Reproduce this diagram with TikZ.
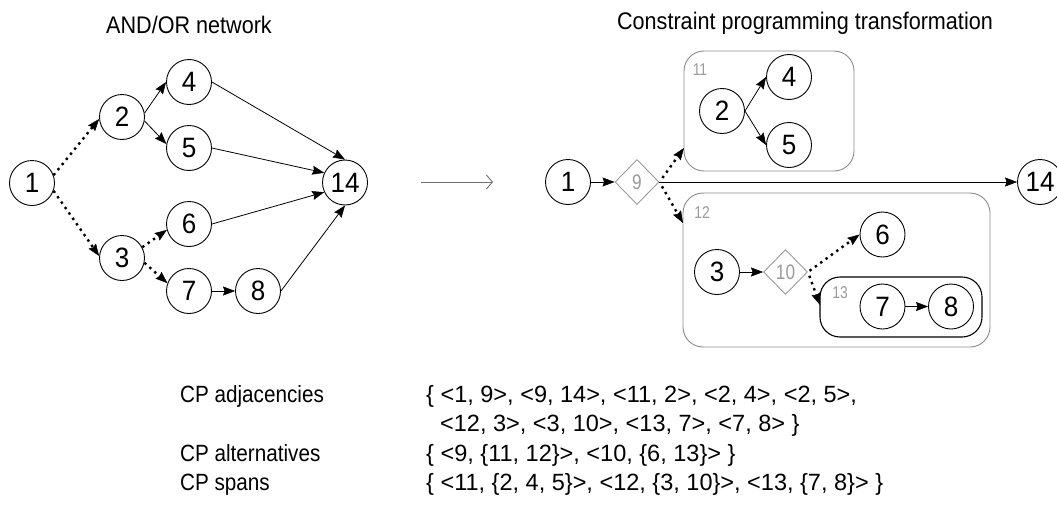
\documentclass[tikz,border=0pt]{standalone}
\usepackage{fontspec}
\setmainfont{Liberation Sans}
\newfontfamily\condfont[FakeStretch=0.9]{Liberation Sans}
\newfontfamily\nodefont[FakeStretch=0.93]{Liberation Sans}
\newfontfamily\labfont[FakeStretch=0.88]{Liberation Sans}
\newfontfamily\smallfont[FakeStretch=0.82]{Liberation Sans}
\usetikzlibrary{arrows.meta,shapes.geometric}
\definecolor{boxgray}{HTML}{8A8A8A}
\definecolor{labgray}{HTML}{9A9A9A}
\definecolor{arrgray}{HTML}{707070}
\begin{document}
\begin{tikzpicture}[x=1pt,y=-1pt,
  nd/.style={circle,draw,line width=0.9pt,minimum size=45pt,inner sep=0pt,font=\nodefont\fontsize{28}{28}\selectfont},
  dia/.style={diamond,draw=labgray,line width=0.9pt,minimum width=44pt,minimum height=45pt,inner sep=0pt,text=labgray,font=\smallfont\fontsize{21}{21}\selectfont},
  grp/.style={draw=boxgray,line width=0.9pt,rounded corners=20pt},
  grpk/.style={draw=black,line width=1.1pt,rounded corners=20pt},
  glab/.style={text=labgray,font=\smallfont\fontsize{17}{17}\selectfont,inner sep=0pt},
  ttl/.style={font=\condfont\fontsize{24}{24}\selectfont,inner sep=0pt},
  txt/.style={font=\fontsize{23.5}{24}\selectfont,inner sep=0pt,anchor=base west},
  lab/.style={font=\labfont\fontsize{23.5}{24}\selectfont,inner sep=0pt,anchor=base west},
  tip/.style={-{Stealth[length=12pt,width=9pt,inset=1.5pt,line width=0.5pt]}},
  sol/.style={tip,line width=0.8pt},
  dotl/.style={tip,line width=2.4pt,dash pattern=on 2.4pt off 4.2pt}
]
\useasboundingbox (0,0) rectangle (1057,506);

% titles
\node[ttl] (t1) at (189,25) {AND/OR network};
\node[ttl] (t2) at (805,23) {Constraint programming transformation};

% ---------- left graph ----------
\node[nd] (a1) at (32,183) {1};
\node[nd] (a2) at (122,117) {2};
\node[nd] (a4) at (189,82) {4};
\node[nd] (a5) at (189,148) {5};
\node[nd] (a14) at (345,182.5) {14};
\node[nd] (a6) at (189,224) {6};
\node[nd] (a3) at (122,258) {3};
\node[nd] (a7) at (189,291) {7};
\node[nd] (a8) at (258,291) {8};

\draw[dotl] (a1.20) -- (a2.185);
\draw[dotl] (a1.-20) -- (a3.175);
\draw[sol] (a2.10) -- (a4.180);
\draw[sol] (a2.-10) -- (a5.170);
\draw[dotl] (a3.28) -- (a6.195);
\draw[dotl] (a3.-12) -- (a7.160);
\draw[sol] (a7.east) -- (a8.west);
\draw[sol] (a4.east) -- (a14.north);
\draw[sol] (a5.east) -- (a14.155);
\draw[sol] (a6.east) -- (a14.205);
\draw[sol] (a8.east) -- (a14.south);

% middle arrow
\coordinate (m1) at (421,182);
\coordinate (m2) at (493,182);
\draw[arrgray,line width=0.9pt,-{Straight Barb[length=6pt,width=14pt,line width=0.9pt]}] (m1) -- (m2);

% ---------- right graph ----------
\draw[grp] (684,51) rectangle (854,171);
\draw[grp] (683,193) rectangle (990,347);
\draw[grpk] (820,277) rectangle (982,337);
\node[glab] (l11) at (700,70) {11};
\node[glab] (l12) at (702,213) {12};
\node[glab] (l13) at (840,293) {13};

\node[nd] (b1) at (568,182) {1};
\node[dia] (d9) at (637,182) {9};
\node[nd] (b14) at (1040,182) {14};
\node[nd] (b2) at (722,111) {2};
\node[nd] (b4) at (789,77) {4};
\node[nd] (b5) at (789,145) {5};
\node[nd] (b3) at (717,272) {3};
\node[dia] (d10) at (785.5,272) {10};
\node[nd] (b6) at (882.5,234.5) {6};
\node[nd] (b7) at (882.5,306.5) {7};
\node[nd] (b8) at (951,306.5) {8};

\coordinate (t11) at (684,148);
\coordinate (t12) at (683,223);
\coordinate (t13) at (820,305);

\draw[sol] (b1.east) -- (d9.west);
\draw[sol] (d9.east) -- (b14.west);
\draw[dotl,shorten <=5pt] (d9.east) -- (t11);
\draw[dotl,shorten <=5pt] (d9.east) -- (t12);
\draw[sol] (b2.east) -- (b4.west);
\draw[sol] (b2.east) -- (b5.west);
\draw[sol] (b3.east) -- (d10.west);
\draw[dotl,shorten <=2pt] (d10.east) -- (b6.west);
\draw[dotl,shorten <=4pt] (d10.east) -- (t13);
\draw[sol] (b7.east) -- (b8.west);

% ---------- bottom text ----------
\node[lab] (c1) at (180,402) {CP adjacencies};
\node[txt] (c1v) at (426,402) {\{ <1, 9>, <9, 14>, <11, 2>, <2, 4>, <2, 5>,};
\node[txt] (c1w) at (440,431) {<12, 3>, <3, 10>, <13, 7>, <7, 8> \}};
\node[lab] (c2) at (180,461) {CP alternatives};
\node[txt] (c2v) at (426,461) {\{ <9, \{11, 12\}>, <10, \{6, 13\}> \}};
\node[lab] (c3) at (180,490) {CP spans};
\node[txt] (c3v) at (426,490) {\{ <11, \{2, 4, 5\}>, <12, \{3, 10\}>, <13, \{7, 8\}> \}};
\end{tikzpicture}
\end{document}
